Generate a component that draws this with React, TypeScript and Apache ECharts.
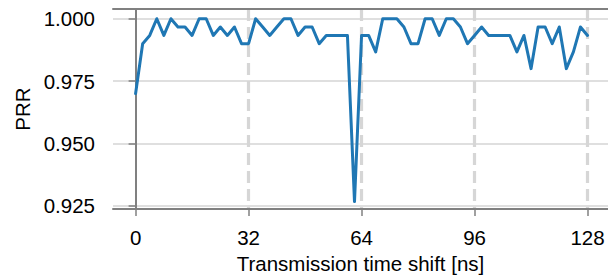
import React, { useEffect, useRef } from "react";
import * as echarts from "echarts";

const shifts = [
  0, 2, 4, 6, 8, 10, 12, 14, 16, 18, 20, 22, 24, 26, 28, 30, 32, 34, 36, 38, 40, 42, 44, 46, 48, 50,
  52, 54, 56, 58, 60, 62, 64, 66, 68, 70, 72, 74, 76, 78, 80, 82, 84, 86, 88, 90, 92, 94, 96, 98, 100,
  102, 104, 106, 108, 110, 112, 114, 116, 118, 120, 122, 124, 126, 128,
];
const prr = [
  0.97, 0.99, 0.9933, 1.0, 0.9933, 1.0, 0.9967, 0.9967, 0.9933, 1.0, 1.0, 0.9933, 0.9967, 0.9933,
  0.9967, 0.99, 0.99, 1.0, 0.9967, 0.9933, 0.9967, 1.0, 1.0, 0.9933, 0.9967, 0.9967, 0.99, 0.9933,
  0.9933, 0.9933, 0.9933, 0.9267, 0.9933, 0.9933, 0.9867, 1.0, 1.0, 1.0, 0.9967, 0.99, 0.99, 1.0,
  1.0, 0.9933, 1.0, 1.0, 0.9967, 0.99, 0.9933, 0.9967, 0.9933, 0.9933, 0.9933, 0.9933, 0.9867,
  0.9933, 0.98, 0.9967, 0.9967, 0.99, 0.9967, 0.98, 0.9867, 0.9967, 0.9933,
];
const xTicks = [0, 32, 64, 96, 128];
const xDashed = [32, 64, 96, 128];
const yTicks = [0.925, 0.95, 0.975, 1.0];

const FONT = "Liberation Sans";
const FS = 20.5;
const SPINE = "#808080";

export default function App() {
  const ref = useRef<HTMLDivElement>(null);
  useEffect(() => {
    if (!ref.current) return;
    const chart = echarts.init(ref.current, null, { renderer: "svg" });
    const xMin = -6.4;
    const xMax = 133.8;
    chart.setOption({
      animation: false,
      grid: { left: 113, right: 0, top: 9, bottom: 69, containLabel: false },
      xAxis: [
        {
          type: "value",
          min: xMin,
          max: xMax,
          position: "bottom",
          name: "Transmission time shift [ns]",
          nameLocation: "middle",
          nameGap: 43,
          nameTextStyle: { fontFamily: FONT, fontSize: FS, color: "#000" },
          axisLine: { show: true, lineStyle: { color: SPINE, width: 2 } },
          axisTick: { show: true, length: 7, customValues: xTicks, lineStyle: { color: SPINE, width: 1.5 } },
          axisLabel: {
            customValues: xTicks,
            margin: 18,
            fontFamily: FONT,
            fontSize: FS,
            color: "#000",
            formatter: (v: number) => String(Math.round(v)),
          },
          splitLine: { show: false },
        },
        {
          type: "value",
          min: xMin,
          max: xMax,
          position: "top",
          axisLine: { show: true, onZero: false, lineStyle: { color: SPINE, width: 2 } },
          axisTick: { show: false, customValues: xDashed },
          axisLabel: { show: false, customValues: xDashed },
          splitLine: { show: true, lineStyle: { color: "#d6d6d6", width: 3.2, type: [12, 6] } },
        },
      ],
      yAxis: {
        type: "value",
        min: 0.9237,
        max: 1.0039,
        name: "PRR",
        nameLocation: "middle",
        nameGap: 80,
        nameTextStyle: { fontFamily: FONT, fontSize: FS, color: "#000" },
        axisLine: { show: true, lineStyle: { color: SPINE, width: 2 } },
        axisTick: { show: true, length: 7, customValues: yTicks, lineStyle: { color: SPINE, width: 1.5 } },
        axisLabel: {
          customValues: yTicks,
          margin: 18,
          fontFamily: FONT,
          fontSize: FS,
          color: "#000",
          formatter: (v: number) => v.toFixed(3),
        },
        splitLine: { show: true, lineStyle: { color: "#d4d4d4", width: 1.6 } },
      },
      series: [
        {
          type: "line",
          xAxisIndex: 0,
          data: shifts.map((s, i) => [s, prr[i]]),
          showSymbol: false,
          symbol: "none",
          lineStyle: { color: "#1f77b4", width: 3, join: "round", cap: "round" },
          z: 3,
        },
      ],
    });
    return () => chart.dispose();
  }, []);
  return (
    <div
      ref={ref}
      style={{ position: "absolute", left: 0, top: 0, width: 608, height: 279 }}
    />
  );
}
